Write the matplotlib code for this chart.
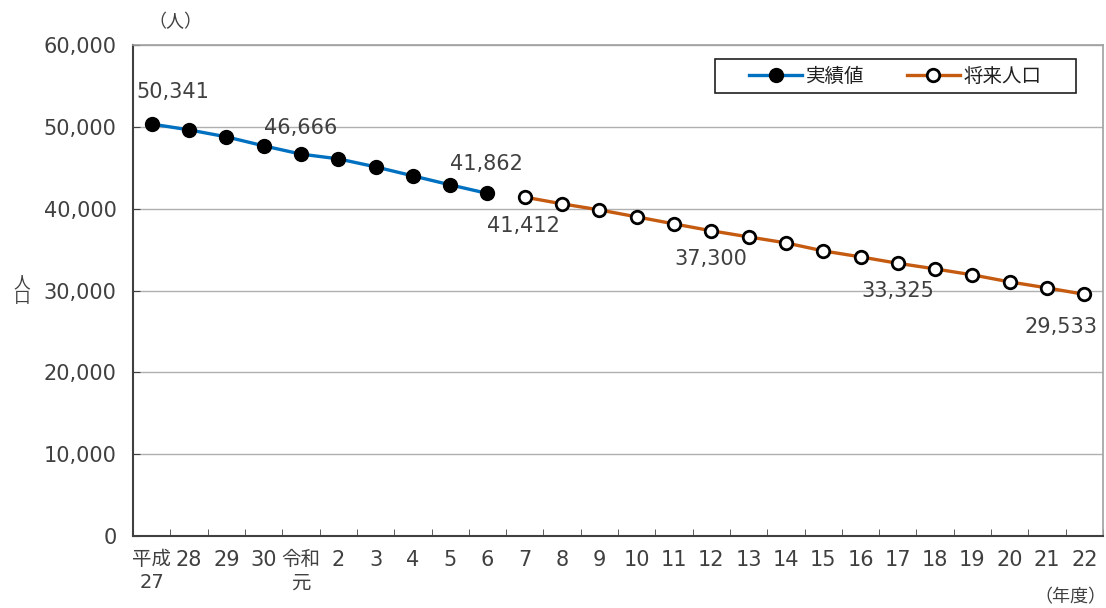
import matplotlib
matplotlib.use("Agg")
import matplotlib.pyplot as plt
from matplotlib.patches import Rectangle

plt.rcParams['font.family'] = ['DejaVu Sans', 'Noto Sans CJK JP']
CJK = ['Noto Sans CJK JP', 'DejaVu Sans']

categories = ['平成\n27', '28', '29', '30', '令和\n元', '2', '3', '4', '5', '6',
              '7', '8', '9', '10', '11', '12', '13', '14', '15', '16', '17',
              '18', '19', '20', '21', '22']
actual = [50341, 49630, 48780, 47680, 46666, 46090, 45110, 44010, 42910, 41862]
future = [41412, 40590, 39850, 39000, 38140, 37300, 36550, 35820, 34840, 34110,
          33325, 32640, 31910, 31050, 30320, 29533]

# annotated points: (index, label, dx, dy in points)
ann_actual = [(0, '50,341', 15, 23), (4, '46,666', 0, 19), (9, '41,862', -1, 21.5)]
ann_future = [(0, '41,412', -1, -21), (5, '37,300', 0, -20), (10, '33,325', 0, -20), (15, '29,533', -17, -23.5)]

blue = '#0070C0'
orange = '#C55A11'
txt = '#404040'
NUM = 15

fig = plt.figure(figsize=(11.06, 6.08), dpi=100)
ax = fig.add_axes([0.1203, 0.1184, 0.8770, 0.8076])

n = len(categories)
xa = list(range(len(actual)))
xf = list(range(len(actual), len(actual) + len(future)))

ax.plot(xa, actual, color=blue, lw=2.4, marker='o', ms=10,
        mfc='black', mec='black', label='実績値', zorder=3)
ax.plot(xf, future, color=orange, lw=2.4, marker='o', ms=9,
        mfc='white', mec='black', mew=2.0, label='将来人口', zorder=3)

for i, lab, dx, dy in ann_actual:
    ax.annotate(lab, (xa[i], actual[i]), xytext=(dx, dy), textcoords='offset points',
                ha='center', va='center', fontsize=NUM, color=txt)
for i, lab, dx, dy in ann_future:
    ax.annotate(lab, (xf[i], future[i]), xytext=(dx, dy), textcoords='offset points',
                ha='center', va='center', fontsize=NUM, color=txt)

ax.set_xlim(-0.5, n - 0.5)
ax.set_ylim(0, 60000)
ax.set_yticks(range(0, 60001, 10000))
ax.set_yticklabels([f'{v:,}' for v in range(0, 60001, 10000)], fontsize=NUM, color=txt)
ax.yaxis.grid(True, color='#b0b0b0', lw=1)
ax.set_axisbelow(True)

ax.set_xticks(range(n))
ax.set_xticklabels(categories, fontsize=NUM, color=txt, linespacing=1.3)
for t in ax.get_xticklabels():
    if '\n' in t.get_text():
        t.set_fontsize(14)
ax.set_xticks([i + 0.5 for i in range(-1, n)], minor=True)
ax.tick_params(axis='x', which='major', length=0, pad=10)
ax.tick_params(axis='x', which='minor', length=5, direction='in', color='#404040')
ax.tick_params(axis='y', length=5, direction='in', color='#404040', pad=12)

for s in ['left', 'bottom']:
    ax.spines[s].set_color('#404040')
    ax.spines[s].set_linewidth(1.5)
for s in ['top', 'right']:
    ax.spines[s].set_color('#a0a0a0')
    ax.spines[s].set_linewidth(1.2)

# legend: items centered in a fixed box
bx, by, bw, bh = 715/1106, 1 - 93/608, 361/1106, 34/608
fig.patches.append(Rectangle((bx, by), bw, bh, transform=fig.transFigure,
                             fill=False, edgecolor='#202020', lw=1.2, zorder=5))
leg = ax.legend(loc='center', bbox_to_anchor=(bx + bw / 2, by + bh / 2),
                bbox_transform=fig.transFigure, ncol=2, frameon=False,
                prop={'family': CJK, 'size': 14},
                handlelength=2.7, columnspacing=2.2, borderpad=0,
                handletextpad=0.2, borderaxespad=0)
for t in leg.get_texts():
    t.set_color('#202020')

fig.text(175/1106, 1 - 22/608, '（人）', ha='center', va='center', fontsize=13,
         color=txt, family=CJK)
fig.text(1070/1106, 1 - 597/608, '（年度）', ha='center', va='center', fontsize=13,
         color=txt, family=CJK)
fig.text(22/1106, 1 - 291/608, '人\n口', ha='center', va='center', fontsize=12,
         color=txt, linespacing=0.9, family=CJK)

fig.savefig('out.png', dpi=100)
